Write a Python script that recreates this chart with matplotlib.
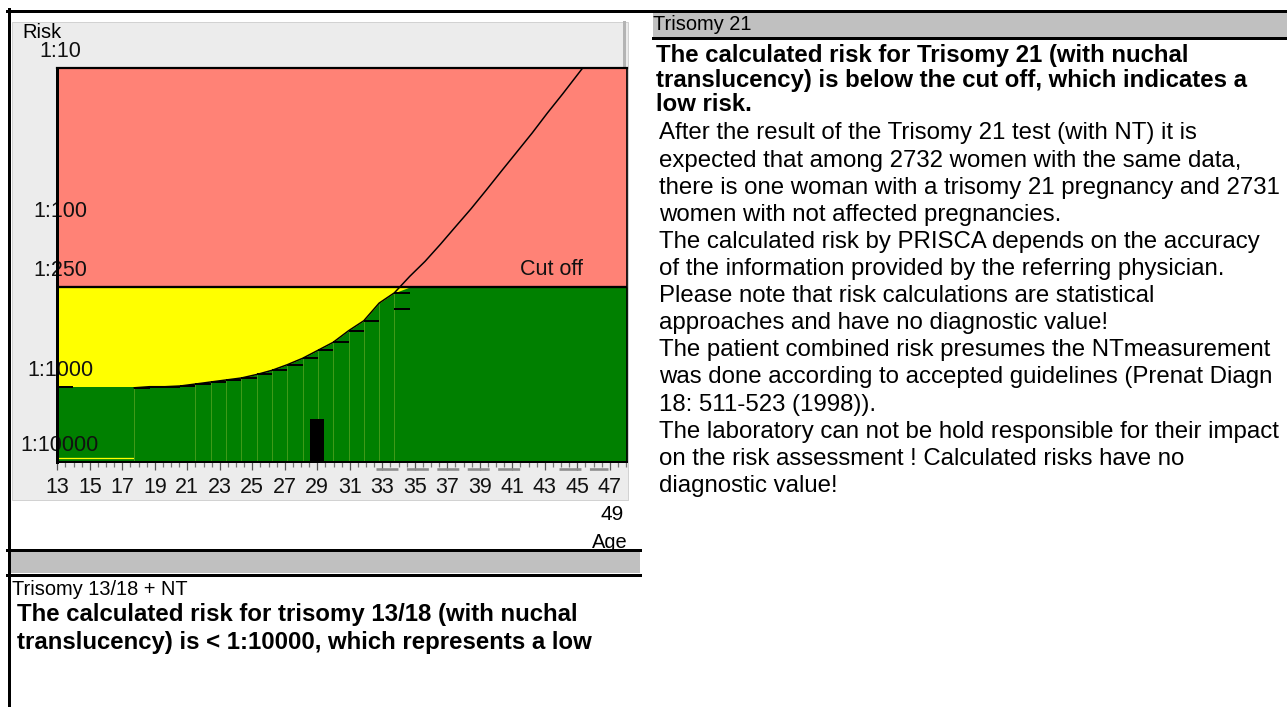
import numpy as np
import matplotlib
matplotlib.use("Agg")
import matplotlib.pyplot as plt
from matplotlib import transforms as mtransforms
from matplotlib.patches import Rectangle
from matplotlib.lines import Line2D
from matplotlib.ticker import MultipleLocator

plt.rcParams['font.family'] = ['Liberation Sans', 'DejaVu Sans']
plt.rcParams['lines.scale_dashes'] = False

# ---------------- data ----------------
risk_ticks = [10, 100, 250, 1000, 10000]
risk_tick_labels = ["1:10", "1:100", "1:250", "1:1000", "1:10000"]
cutoff_risk = 250
age_tick_labels = list(range(13, 48, 2))

# age-related risk curve (1:N)
curve_age = list(range(18, 49))
curve_risk = [1040, 1006, 1006, 993, 966, 939, 913, 888, 846, 798, 738, 675,
              604, 540, 460, 400, 313, 271, 212, 168, 129, 98, 76, 58, 44,
              33.5, 25.5, 19.1, 14.5, 10.9, 8.2]

# first wide bar (ages 13-18)
base_bar_ages = [13, 18]
base_bar_risk = 1015
base_floor_risk = 8850

# bar separators and bar-top markers
separator_age = [18, 22, 23, 24, 25, 26, 27, 28, 29, 30, 31, 32, 33, 34, 35]
dash_age = [13, 18, 19, 20, 21, 22, 23, 24, 25, 26, 27, 28, 29, 30, 31, 32, 33, 35, 35]
dash_risk = [1015, 1056, 1006, 1006, 993, 966, 939, 913, 888, 846, 798, 738,
             675, 604, 540, 460, 400, 338, 271]

# patient
patient_age = 29.5
patient_risk = 2732

# texts
right_header = "Trisomy 21"
right_bold = ["The calculated risk for Trisomy 21 (with nuchal",
              "translucency) is below the cut off, which indicates a",
              "low risk."]
right_body = ["After the result of the Trisomy 21 test (with NT) it is",
              "expected that among 2732 women with the same data,",
              "there is one woman with a trisomy 21 pregnancy and 2731",
              "women with not affected pregnancies.",
              "The calculated risk by PRISCA depends on the accuracy",
              "of the information provided by the referring physician.",
              "Please note that risk calculations are statistical",
              "approaches and have no diagnostic value!",
              "The patient combined risk presumes the NTmeasurement",
              "was done according to accepted guidelines (Prenat Diagn",
              "18: 511-523 (1998)).",
              "The laboratory can not be hold responsible for their impact",
              "on the risk assessment ! Calculated risks have no",
              "diagnostic value!"]
lower_header = "Trisomy 13/18 + NT"
lower_bold = ["The calculated risk for trisomy 13/18 (with nuchal",
              "translucency) is < 1:10000, which represents a low"]

# ---------------- scale (chart's piecewise log risk axis) ----------------
_LOGS = np.log10([10, 100, 250, 1000, 10000])
_POS = np.array([0.0, 160.0, 219.0, 318.5, 394.0])


def _lin(x, xp, fp):
    x = np.asarray(x, dtype=float)
    s0 = (fp[1] - fp[0]) / (xp[1] - xp[0])
    s1 = (fp[-1] - fp[-2]) / (xp[-1] - xp[-2])
    return np.where(x < xp[0], fp[0] + (x - xp[0]) * s0,
                    np.where(x > xp[-1], fp[-1] + (x - xp[-1]) * s1,
                             np.interp(x, xp, fp)))


def risk_fwd(n):
    n = np.clip(np.asarray(n, dtype=float), 1e-3, None)
    return _lin(np.log10(n), _LOGS, _POS)


def risk_inv(p):
    return 10 ** _lin(p, _POS, _LOGS)


XLIM = (12.95, 50.2)
AX_L, AX_R, AX_T, AX_B = 57, 627, 68, 462
LBL0_PX, LBL_STEP = 57.3, 16.25
DATA_STEP = (AX_R - AX_L) / (XLIM[1] - XLIM[0])


def data_to_label(a):
    px = AX_L + (np.asarray(a, dtype=float) - XLIM[0]) * DATA_STEP
    return 13 + (px - LBL0_PX) / LBL_STEP


def label_to_data(l):
    px = LBL0_PX + (np.asarray(l, dtype=float) - 13) * LBL_STEP
    return XLIM[0] + (px - AX_L) / DATA_STEP


# ---------------- figure ----------------
W, H = 1287, 707
fig = plt.figure(figsize=(W / 100, H / 100), dpi=100)
fig.patch.set_facecolor('white')
PX = mtransforms.Affine2D().scale(1 / W, -1 / H).translate(0, 1) + fig.transFigure
PT = 0.72  # points per pixel

# chart panel background
fig.add_artist(Rectangle((11.5, 21.5), 616, 478, transform=PX, facecolor='#ECECEC',
                         edgecolor='#D2D2D2', lw=1 * PT, zorder=-2))
fig.add_artist(Line2D([623.5, 623.5], [22, 66], transform=PX, color='#B4B4B4',
                      lw=3 * PT, zorder=-1))

GREEN = '#008000'
ax = fig.add_axes([AX_L / W, 1 - AX_B / H, (AX_R - AX_L) / W, (AX_B - AX_T) / H])
ax.set_facecolor('none')
ax.set_yscale('function', functions=(risk_fwd, risk_inv))
ax.set_ylim(risk_ticks[-1], risk_ticks[0])
ax.set_xlim(*XLIM)
ybot, ytop = ax.get_ylim()

ax.axhspan(cutoff_risk, ybot, color='#FFFF00', lw=0, zorder=0)
ax.axhspan(ytop, cutoff_risk, color='#FF8276', lw=0, zorder=0)

ax.bar(base_bar_ages[0], base_bar_risk - ybot, bottom=ybot,
       width=base_bar_ages[1] - base_bar_ages[0], align='edge', color=GREEN,
       lw=0, zorder=1)
fx = np.r_[curve_age, XLIM[1]]
fy = np.r_[np.maximum(curve_risk, cutoff_risk), cutoff_risk]
ax.fill_between(fx, fy, ybot, color=GREEN, lw=0, zorder=1)
ax.hlines(base_floor_risk, base_bar_ages[0], base_bar_ages[1], color='#FFFF00',
          lw=1.3 * PT, zorder=1.5)
ax.vlines(separator_age, ybot, np.interp(separator_age, curve_age, curve_risk),
          color='#3F9A18', lw=1.0 * PT, zorder=1.6)
ax.hlines(dash_risk, dash_age, np.add(dash_age, 1), color='black', lw=2.0 * PT,
          zorder=3)
ax.plot(curve_age, curve_risk, color='black', lw=1.5 * PT, zorder=4)
ax.bar(patient_age, patient_risk - ybot, bottom=ybot, width=0.9, align='edge',
       color='black', lw=0, zorder=4)
ax.axhline(cutoff_risk, color='black', lw=2.3 * PT, zorder=5)

for side, lw in (('left', 3.0), ('top', 2.2), ('right', 1.7), ('bottom', 2.0)):
    ax.spines[side].set_linewidth(lw * PT)
    ax.spines[side].set_color('black')
    ax.spines[side].set_zorder(6)

ax.set_yticks(risk_ticks)
ax.tick_params(axis='y', length=0, labelleft=False)
ax.tick_params(axis='x', length=0, labelbottom=False)
ax.minorticks_off()

ytrans = ax.get_yaxis_transform()
for v, lab in zip(risk_ticks, risk_tick_labels):
    ax.annotate(lab, xy=(0, v), xycoords=ytrans, xytext=(3, 11),
                textcoords='offset pixels', ha='center', va='baseline',
                fontsize=15.5, color='#111111', annotation_clip=False, zorder=2)
ax.annotate("Cut off", xy=(0.867, cutoff_risk), xycoords=ytrans, xytext=(0, 12),
            textcoords='offset pixels', ha='center', va='baseline', fontsize=15.5,
            color='#111111', zorder=2)

sec = ax.secondary_xaxis('bottom', functions=(data_to_label, label_to_data))
sec.set_xticks(age_tick_labels)
sec.set_xticklabels([str(a) for a in age_tick_labels])
sec.xaxis.set_minor_locator(MultipleLocator(0.5))
sec.tick_params(which='major', length=5.5, width=0.9, color='#555555', pad=5.5,
                labelsize=15.5, labelcolor='#111111')
sec.tick_params(which='minor', length=3.5, width=0.9, color='#777777')
sec.spines['bottom'].set_visible(False)

# grey dashed strip under the axis
glitch_segments = [(32.6, 41.55), (43.9, 46.9)]
trans_dash = (mtransforms.blended_transform_factory(ax.transData, ax.transAxes)
              + mtransforms.ScaledTranslation(0, -6.5 / 100, fig.dpi_scale_trans))
for a0, a1 in glitch_segments:
    ax.add_line(Line2D(label_to_data([a0, a1]), [0, 0], transform=trans_dash,
                       color='#8C8C8C', lw=2.6 * PT, dashes=(15.8, 6.1),
                       dash_capstyle='butt', clip_on=False, zorder=2))

fig.text(22, 37.5, "Risk", transform=PX, fontsize=14.4, va='baseline', ha='left')
fig.text(624, 520, "49", transform=PX, fontsize=15, va='baseline', ha='right')
fig.text(628, 547.5, "Age", transform=PX, fontsize=14.4, va='baseline', ha='right',
         zorder=1)

# frame lines
BL = 3 * PT
fig.add_artist(Line2D([7, W], [10.5, 10.5], transform=PX, color='black', lw=BL, zorder=5))
fig.add_artist(Line2D([8.5, 8.5], [9, H], transform=PX, color='black', lw=BL, zorder=5))

# right panel
fig.add_artist(Rectangle((653, 12), W - 653, 25, transform=PX, facecolor='#C0C0C0',
                         lw=0, zorder=1))
fig.add_artist(Line2D([653, W], [38.3, 38.3], transform=PX, color='black', lw=BL, zorder=5))
fig.text(653, 30.5, right_header, transform=PX, fontsize=14.4, va='baseline', zorder=3)
for i, s in enumerate(right_bold):
    fig.text(656, 62 + 24.5 * i, s, transform=PX, fontsize=17.3, fontweight='bold',
             va='baseline')
for i, s in enumerate(right_body):
    fig.text(659, 139.5 + 27.1 * i, s, transform=PX, fontsize=17.3, va='baseline')

# lower-left panel
fig.add_artist(Rectangle((8, 552), 632, 21, transform=PX, facecolor='#C0C0C0',
                         lw=0, zorder=4))
fig.add_artist(Line2D([7, 640], [550, 550], transform=PX, color='black', lw=BL, zorder=5))
fig.add_artist(Line2D([7, 640], [575, 575], transform=PX, color='black', lw=BL, zorder=5))
fig.text(12, 595, lower_header, transform=PX, fontsize=14.4, va='baseline')
for i, s in enumerate(lower_bold):
    fig.text(17, 621 + 28 * i, s, transform=PX, fontsize=17.3, fontweight='bold',
             va='baseline')

fig.savefig("out.png", dpi=100, facecolor='white')
